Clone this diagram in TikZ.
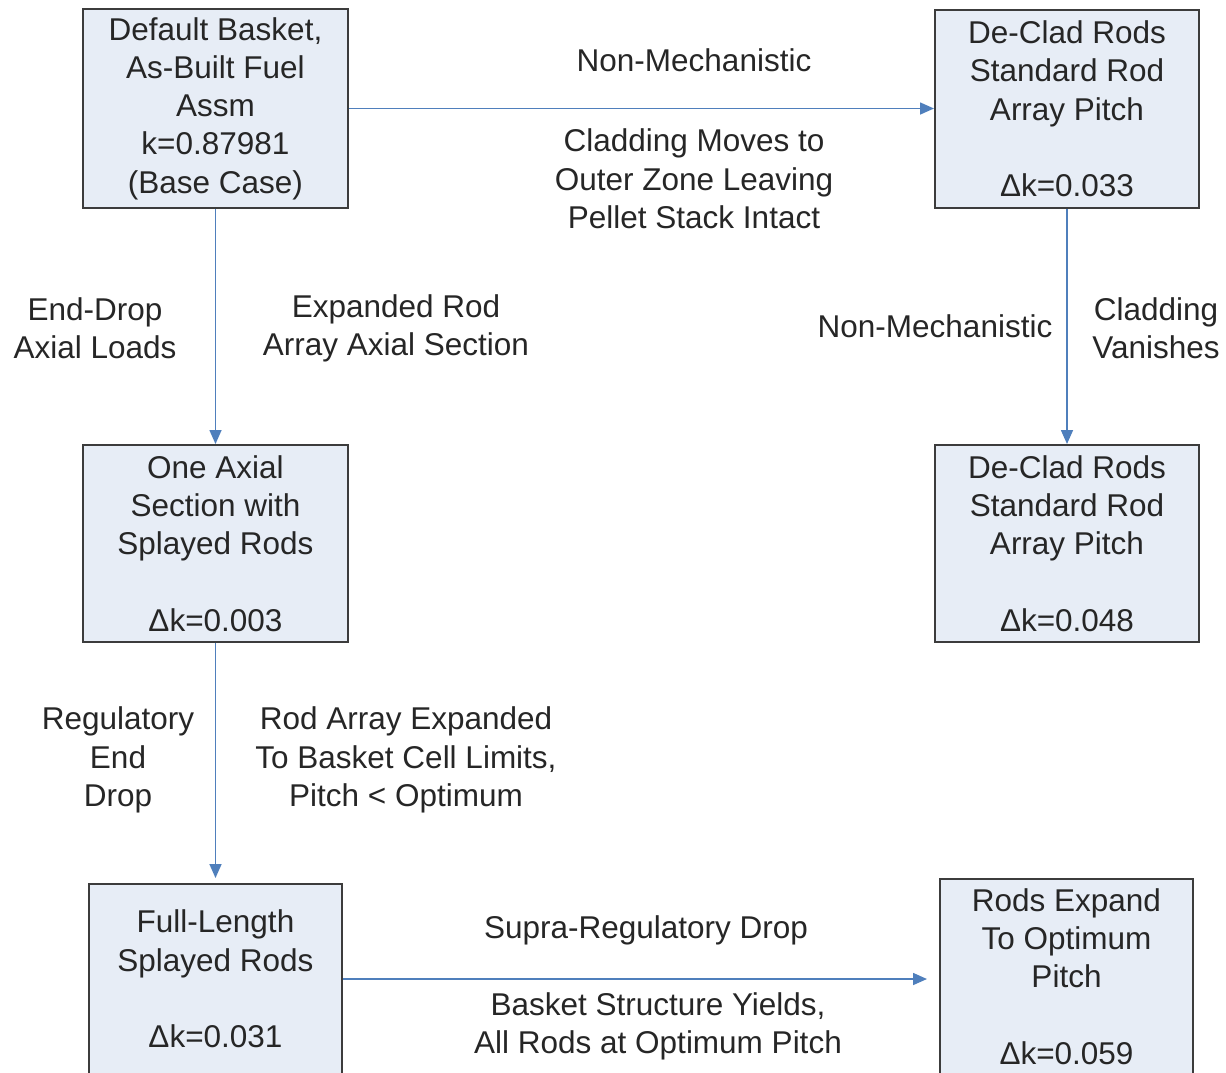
\documentclass[tikz,border=0pt]{standalone}
\usepackage{fontspec}
\setmainfont{Liberation Sans}
\usetikzlibrary{arrows.meta}
\definecolor{boxfill}{HTML}{E7EDF6}
\definecolor{boxline}{HTML}{3C3C3C}
\definecolor{arrowc}{HTML}{4F7FBC}
\definecolor{txt}{HTML}{262626}
\begin{document}
\begin{tikzpicture}[x=1pt,y=-1pt,
  every node/.style={font=\fontsize{31.5}{38.3}\selectfont, text=txt, align=center, inner sep=0pt},
  bx/.style={draw=boxline, line width=2pt, fill=boxfill},
  arr/.style={draw=arrowc, line width=1.6pt, -{Triangle[length=14pt,width=12pt]}},
  lbl/.style={}]
\useasboundingbox (0,0) rectangle (1226,1072);
\clip (0,0) rectangle (1226,1072);
\node[bx, minimum width=265pt, minimum height=199pt] (b1) at (215.5,108.5)
  {Default Basket,\\As-Built Fuel\\Assm\\k=0.87981\\(Base Case)};
\node[bx, minimum width=264pt, minimum height=198pt] (b2) at (1067,109)
  {De-Clad Rods\\Standard Rod\\Array Pitch\\\mbox{}\\Δk=0.033};
\node[bx, minimum width=265pt, minimum height=197pt] (b3) at (215.5,543.5)
  {One Axial\\Section with\\Splayed Rods\\\mbox{}\\Δk=0.003};
\node[bx, minimum width=264pt, minimum height=197pt] (b4) at (1067,543.5)
  {De-Clad Rods\\Standard Rod\\Array Pitch\\\mbox{}\\Δk=0.048};
\node[bx, minimum width=253pt, minimum height=190pt] (b5) at (215.5,979)
  {Full-Length\\Splayed Rods\\\mbox{}\\Δk=0.031};
\node[bx, minimum width=253pt, minimum height=195pt] (b6) at (1066.5,976.5)
  {Rods Expand\\To Optimum\\Pitch\\\mbox{}\\Δk=0.059};

\draw[arr] (b1.east) -- (b1.east -| b2.west);
\draw[arr] (b1.south) -- (b3.north);
\draw[arr] (b2.south) -- (b4.north);
\draw[arr, shorten >=5pt] (b3.south) -- (b5.north);
\draw[arr, shorten >=12pt] (b5.east) -- (b5.east -| b6.west);

\node[lbl] (l1) at (694,60) {Non-Mechanistic};
\node[lbl] (l2) at (694,179) {Cladding Moves to\\Outer Zone Leaving\\Pellet Stack Intact};
\node[lbl] (l3) at (95,328) {End-Drop\\Axial Loads};
\node[lbl] (l4) at (396,328) {Expanded Rod\\Array Axial Section};
\node[lbl] (l5) at (935,326) {Non-Mechanistic};
\node[lbl] (l6) at (1156,328) {Cladding\\Vanishes};
\node[lbl] (l7) at (118,760) {Regulatory\\End\\Drop};
\node[lbl] (l8) at (406,760) {Rod Array Expanded\\To Basket Cell Limits,\\Pitch < Optimum};
\node[lbl] (l9) at (646,930) {Supra-Regulatory Drop};
\node[lbl] (l10) at (658,1026) {Basket Structure Yields,\\All Rods at Optimum Pitch};
\end{tikzpicture}
\end{document}
